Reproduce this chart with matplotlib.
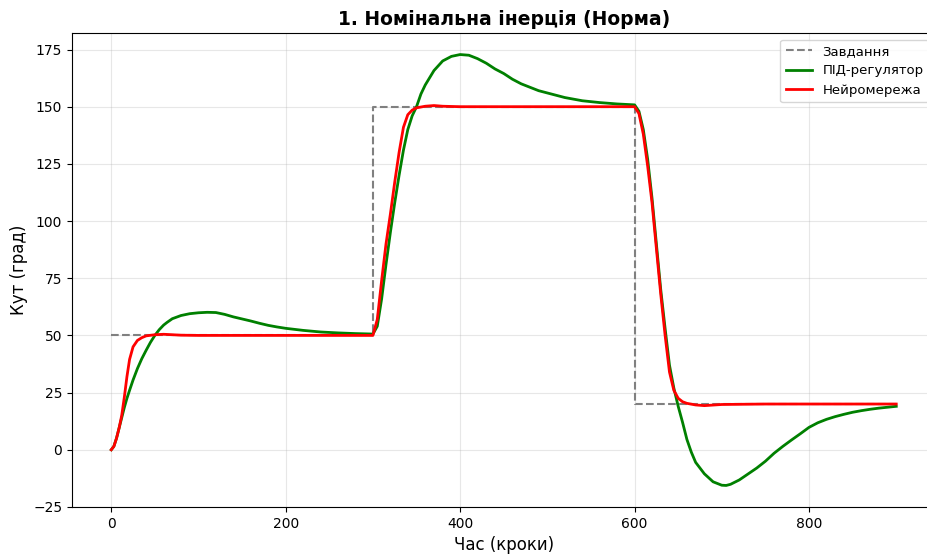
import matplotlib
matplotlib.use("Agg")
import matplotlib.pyplot as plt

# Setpoint schedule (step changes)
t_ref = [0, 300, 600, 900]
ref = [50, 150, 20, 20]

# PID controller response
t_pid = [0, 3, 6, 9, 12, 15, 18, 21, 25, 30, 35, 40, 45, 50, 55, 60, 64, 70, 80, 90, 100,
         110, 120, 130, 140, 150, 160, 170, 180, 190, 200, 220, 240, 260, 280, 300,
         305, 310, 315, 320, 325, 330, 335, 340, 345, 350, 355, 360, 370, 380, 390,
         400, 410, 420, 430, 440, 450, 460, 470, 480, 490, 500, 520, 540, 560, 580,
         600, 605, 610, 615, 620, 625, 630, 635, 640, 645, 650, 655, 660, 665, 670,
         680, 690, 700, 705, 710, 720, 730, 740, 750, 760, 770, 780, 790, 800, 810,
         820, 830, 840, 850, 860, 870, 880, 890, 900]
y_pid = [0, 1.5, 5, 9.5, 14, 18.5, 22.5, 26, 30.5, 35.5, 39.8, 43.5, 47, 50, 52.5, 54.5, 55.7, 57.3, 58.7, 59.5, 59.9,
         60.1, 60, 59.2, 58.1, 57.2, 56.3, 55.3, 54.4, 53.7, 53.1, 52.2, 51.5, 51.1, 50.8, 50.6,
         54, 66, 81, 95, 108, 120, 131, 140, 146, 150, 155.5, 159.5, 165.8, 170, 172,
         172.8, 172.5, 171, 169, 166.5, 164.5, 162, 160, 158.5, 157, 156, 154, 152.6, 151.8, 151.2,
         150.8, 148, 140, 127, 110, 90, 70, 53, 37, 27, 19, 12, 4.5, -1, -5.5,
         -10.5, -14, -15.5, -15.6, -15.1, -13.2, -10.6, -8, -5, -1.5, 1.5, 4.3, 7, 9.8, 11.8,
         13.3, 14.5, 15.5, 16.4, 17.1, 17.7, 18.2, 18.6, 19]

# Neural network controller response
t_nn = [0, 3, 6, 9, 12, 15, 18, 21, 25, 30, 35, 40, 50, 60, 70, 80, 100, 200, 300,
        305, 310, 315, 320, 325, 330, 335, 340, 345, 350, 360, 370, 380, 400, 500, 600,
        605, 610, 615, 620, 625, 630, 635, 640, 645, 650, 655, 660, 670, 680, 700, 750, 900]
y_nn = [0, 1.5, 5, 9.5, 15, 23, 32, 39.5, 45, 47.8, 49, 49.8, 50.3, 50.5, 50.3, 50.1, 50, 50, 50,
        57, 74, 90, 103, 117, 130, 141, 146.5, 148.5, 149.5, 150.2, 150.5, 150.2, 150, 150, 150,
        147, 138, 124, 108, 88, 68, 50, 34, 26, 22.5, 21, 20.3, 19.6, 19.3, 19.8, 20, 20]

fig = plt.figure(figsize=(9.27, 5.55), dpi=100)
ax = fig.add_axes([72 / 927, 48 / 555, 863.5 / 927, 474 / 555])

ax.step(t_ref, ref, where="post", color="gray", linestyle="--", linewidth=1.5, label="Завдання")
ax.plot(t_pid, y_pid, color="green", linewidth=2, label="ПІД-регулятор")
ax.plot(t_nn, y_nn, color="red", linewidth=2, label="Нейромережа")

ax.set_title("1. Номінальна інерція (Норма)", fontsize=13.5, fontweight="bold")
ax.set_xlabel("Час (кроки)", fontsize=12)
ax.set_ylabel("Кут (град)", fontsize=12)
ax.tick_params(labelsize=10)
ax.grid(True, alpha=0.3)
ax.legend(loc="upper right", fontsize=9.5)

fig.savefig("out.png", dpi=100)
